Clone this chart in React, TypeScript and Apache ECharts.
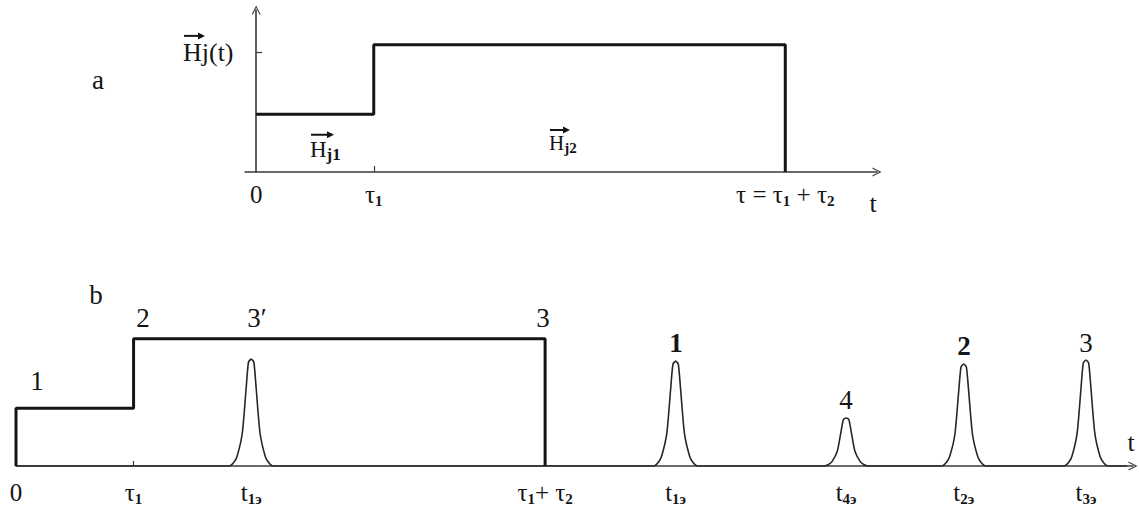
import React, { useEffect, useRef } from "react";
import * as echarts from "echarts";

// ---- Panel a: magnetic field pulse Hj(t) ----
const stepA: number[][] = [[0, 2], [2, 2], [2, 4.4], [9, 4.4], [9, 0]];
const ticksA = [0, 2, 9];
const tickLabelsA = ["{m|0}", "{m|τ}{s|1}", "{m|τ = τ}{s|1}{m| + τ}{s|2}"];
const yTickA = [4.15];

// ---- Panel b: pulse and echo signals ----
const stepB: number[][] = [[0, 0], [0, 2], [2, 2], [2, 4.4], [9, 4.4], [9, 0]];
const peak3p: number[][] = [[3.63, 0], [3.70, 0.11], [3.76, 0.33], [3.85, 1.15], [3.915, 2.70], [3.954, 3.59], [4.0, 3.70], [4.046, 3.59], [4.085, 2.70], [4.15, 1.15], [4.24, 0.33], [4.30, 0.11], [4.37, 0]];
const peak1: number[][] = [[10.85, 0], [10.92, 0.11], [10.98, 0.33], [11.07, 1.13], [11.135, 2.65], [11.174, 3.52], [11.22, 3.63], [11.266, 3.52], [11.305, 2.65], [11.37, 1.13], [11.46, 0.33], [11.52, 0.11], [11.59, 0]];
const peak4: number[][] = [[13.75, 0], [13.82, 0.05], [13.88, 0.15], [13.97, 0.51], [14.035, 1.21], [14.074, 1.61], [14.12, 1.66], [14.166, 1.61], [14.205, 1.21], [14.27, 0.51], [14.36, 0.15], [14.42, 0.05], [14.49, 0]];
const peak2: number[][] = [[15.75, 0], [15.82, 0.11], [15.88, 0.32], [15.97, 1.09], [16.035, 2.58], [16.074, 3.42], [16.12, 3.53], [16.166, 3.42], [16.205, 2.58], [16.27, 1.09], [16.36, 0.32], [16.42, 0.11], [16.49, 0]];
const peak3: number[][] = [[17.83, 0], [17.90, 0.11], [17.96, 0.33], [18.05, 1.14], [18.115, 2.68], [18.154, 3.56], [18.2, 3.67], [18.246, 3.56], [18.285, 2.68], [18.35, 1.14], [18.44, 0.33], [18.50, 0.11], [18.57, 0]];
const traceStart: number[][] = [[0, 0]];
const traceEnd: number[][] = [[18.9, 0]];
const ticksB = [0, 2, 4.0, 9, 11.22, 14.12, 16.12, 18.2];
const tickLabelsB = [
  "{m|0}",
  "{m|τ}{s|1}",
  "{m|t}{s|1э}",
  "{m|τ}{s|1}{m|+ τ}{s|2}",
  "{m|t}{s|1э}",
  "{m|t}{s|4э}",
  "{m|t}{s|2э}",
  "{m|t}{s|3э}",
];

const FONT = "'Liberation Serif', 'DejaVu Serif', serif";
const INK = "#151515";
const AXIS = "#3a3a3a";
const CHEVRON = "path://M5,0 L10,10 L8.6,10 L5,2.6 L1.4,10 L0,10 Z";

const rich = {
  m: { fontSize: 25, fontFamily: FONT, color: INK, lineHeight: 28, verticalAlign: "middle" },
  s: { fontSize: 15, fontFamily: FONT, color: INK, lineHeight: 15, verticalAlign: "bottom", fontWeight: "bold" },
};

function vecLabel(x: number, y: number, size: number, sub: string, isSub: boolean, arrowLen: number) {
  const ay = y - size * 0.62;
  const subSize = isSub ? Math.round(size * 0.72) : size;
  return {
    type: "group",
    children: [
      {
        type: "text",
        x,
        y,
        style: {
          text: `{h|H}{s|${sub}}`,
          align: "left",
          verticalAlign: "middle",
          rich: {
            h: { fontSize: size, fontFamily: FONT, fill: INK, color: INK, lineHeight: size + 4, verticalAlign: "middle" },
            s: {
              fontSize: subSize,
              fontFamily: FONT,
              fontWeight: isSub ? "bold" : "normal",
              color: INK,
              fill: INK,
              lineHeight: isSub ? subSize : size + 4,
              verticalAlign: isSub ? "bottom" : "middle",
            },
          },
        },
      },
      { type: "line", shape: { x1: x + 1, y1: ay, x2: x + arrowLen, y2: ay }, style: { stroke: INK, lineWidth: 2 } },
      {
        type: "polygon",
        shape: { points: [[x + arrowLen - 5, ay - 3.5], [x + arrowLen + 2, ay], [x + arrowLen - 5, ay + 3.5]] },
        style: { fill: INK },
      },
    ],
  };
}

function txt(x: number, y: number, text: string, size = 25, bold = false) {
  return {
    type: "text",
    x,
    y,
    style: {
      text,
      fontSize: size,
      fontFamily: FONT,
      fontWeight: bold ? "bold" : "normal",
      fill: INK,
      align: "center",
      verticalAlign: "middle",
    },
  };
}

export default function App() {
  const ref = useRef<HTMLDivElement>(null);

  useEffect(() => {
    document.body.style.margin = "0";
    if (!ref.current) return;
    const chart = echarts.init(ref.current, undefined, { renderer: "svg" });

    const trace = [...traceStart, ...peak3p, ...peak1, ...peak4, ...peak2, ...peak3, ...traceEnd];

    chart.setOption({
      animation: false,
      backgroundColor: "#ffffff",
      grid: [
        { left: 245, right: 262, top: 10, bottom: 345 },
        { left: 16, right: 6, top: 327, bottom: 51 },
      ],
      xAxis: [
        {
          gridIndex: 0,
          type: "value",
          min: -0.19,
          max: 10.56,
          splitLine: { show: false },
          axisLine: { show: true, onZero: true, symbol: ["none", CHEVRON], symbolSize: [9, 10], lineStyle: { color: AXIS, width: 1.6 } },
          axisTick: { show: true, inside: true, length: 6, customValues: [2], lineStyle: { color: AXIS, width: 1.2 } },
          axisLabel: {
            show: true,
            customValues: ticksA,
            margin: 8,
            formatter: (v: number) => tickLabelsA[ticksA.indexOf(v)] ?? "",
            rich,
          },
        },
        {
          gridIndex: 1,
          type: "value",
          min: 0,
          max: 19.0,
          splitLine: { show: false },
          axisLine: { show: true, onZero: false, symbol: ["none", CHEVRON], symbolSize: [9, 10], lineStyle: { color: AXIS, width: 1.6 } },
          axisTick: { show: true, inside: true, length: 5, customValues: [2], lineStyle: { color: AXIS, width: 1.2 } },
          axisLabel: {
            show: true,
            customValues: ticksB,
            margin: 12,
            formatter: (v: number) => tickLabelsB[ticksB.indexOf(v)] ?? "",
            rich,
          },
        },
      ],
      yAxis: [
        {
          gridIndex: 0,
          type: "value",
          min: 0,
          max: 5.6,
          splitLine: { show: false },
          axisLine: { show: true, onZero: true, symbol: ["none", CHEVRON], symbolSize: [9, 10], lineStyle: { color: AXIS, width: 1.6 } },
          axisTick: { show: true, inside: true, length: 6, customValues: yTickA, lineStyle: { color: AXIS, width: 1.2 } },
          axisLabel: { show: false },
        },
        {
          gridIndex: 1,
          type: "value",
          min: 0,
          max: 4.81,
          show: false,
        },
      ],
      series: [
        {
          type: "line",
          xAxisIndex: 0,
          yAxisIndex: 0,
          data: stepA,
          symbol: "none",
          lineStyle: { color: INK, width: 3 },
          z: 5,
        },
        {
          type: "line",
          xAxisIndex: 1,
          yAxisIndex: 1,
          data: trace,
          symbol: "none",
          smooth: 0.2,
          lineStyle: { color: "#262626", width: 1.6 },
          z: 4,
        },
        {
          type: "line",
          xAxisIndex: 1,
          yAxisIndex: 1,
          data: stepB,
          symbol: "none",
          lineStyle: { color: INK, width: 3 },
          z: 5,
        },
      ],
      graphic: [
        txt(98, 80, "a", 27),
        txt(96, 295, "b", 27),
        vecLabel(183, 52, 26, "j(t)", false, 20),
        vecLabel(310, 149, 23, "j1", true, 22),
        vecLabel(549, 143, 21, "j2", true, 19),
        txt(873, 203, "t", 26),
        txt(1131, 442, "t", 26),
        txt(37, 381, "1", 27),
        txt(143, 318, "2", 27),
        txt(257, 318, "3′", 27),
        txt(543, 318, "3", 27),
        txt(676, 343, "1", 27, true),
        txt(846, 400, "4", 27),
        txt(964, 346, "2", 27, true),
        txt(1086, 343, "3", 27),
      ],
    });

    return () => chart.dispose();
  }, []);

  return <div ref={ref} style={{ width: 1139, height: 517 }} />;
}
